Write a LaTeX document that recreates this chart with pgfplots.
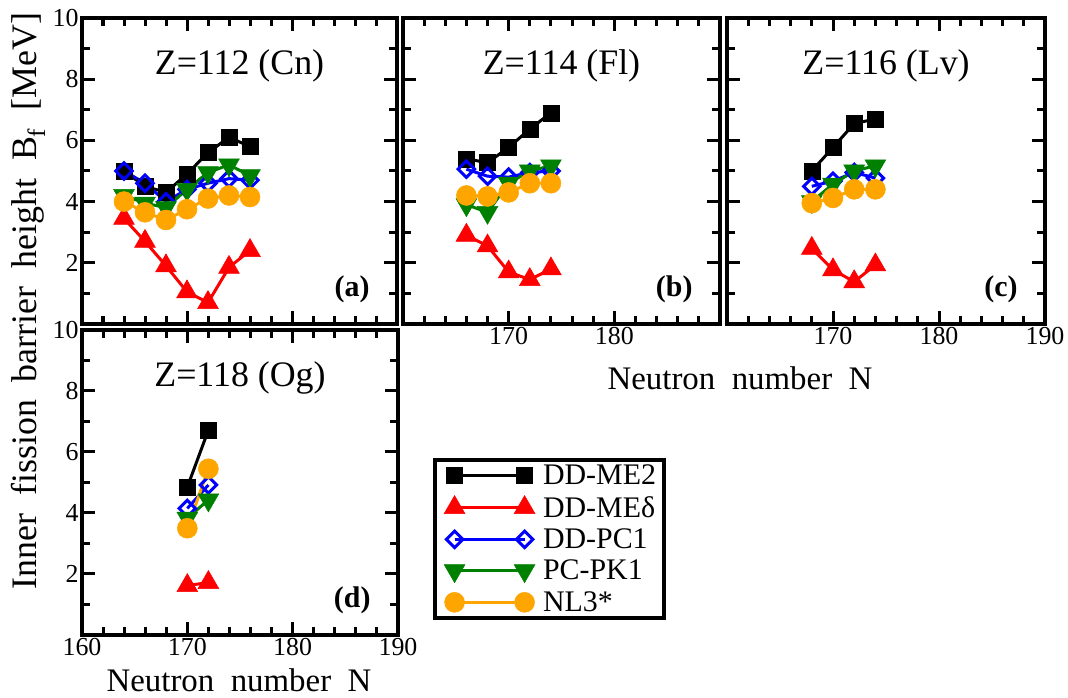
\documentclass[border=0pt]{standalone}
\usepackage{fontspec}
\setmainfont{Liberation Serif}
\usepackage{pgfplots}
\usepackage{pgfplotstable}
\pgfplotsset{compat=1.18}
\definecolor{cOrange}{RGB}{255,165,0}
\definecolor{cGreen}{RGB}{0,128,0}
\newcommand{\fs}[1]{\fontsize{#1}{#1}\selectfont}

\pgfplotstableread{
N   me2  medelta pc1  pk1  nl3
164 5.00 3.45    5.00 4.20 4.00
166 4.50 2.70    4.60 3.95 3.65
168 4.30 1.90    4.00 3.80 3.40
170 4.90 1.05    4.40 4.40 3.75
172 5.60 0.70    4.60 4.95 4.10
174 6.10 1.85    4.75 5.20 4.20
176 5.80 2.40    4.70 4.85 4.15
}\tabA
\pgfplotstableread{
N   me2  medelta pc1  pk1  nl3
166 5.40 2.90    5.06 3.90 4.20
168 5.27 2.55    4.83 3.65 4.17
170 5.77 1.70    4.80 4.60 4.30
172 6.37 1.45    4.95 5.00 4.60
174 6.90 1.80    5.00 5.17 4.60
}\tabB
\pgfplotstableread{
N   me2  medelta pc1  pk1  nl3
168 5.00 2.47    4.50 4.00 3.95
170 5.77 1.77    4.67 4.57 4.12
172 6.55 1.38    4.95 5.00 4.40
174 6.70 1.93    4.77 5.17 4.40
}\tabC
\pgfplotstableread{
N   me2  medelta pc1  pk1  nl3
170 4.85 1.62    4.15 3.83 3.50
172 6.72 1.72    4.92 4.43 5.45
}\tabD

\pgfplotsset{
  panel/.style={
    scale only axis, height=306bp,
    xmin=160, xmax=190, ymin=0, ymax=10,
    xtick={160,170,180,190}, ytick={2,4,6,8,10},
    minor xtick={162,164,166,168,172,174,176,178,182,184,186,188},
    minor ytick={1,3,5,7,9},
    tick align=inside,
    axis line style={line width=4.5bp},
    major tick length=13bp, minor tick length=8bp,
    every tick/.append style={line width=3bp, black},
    tick label style={font=\fs{26}},
    /pgf/number format/assume math mode=true,
    /pgf/number format/1000 sep={},
    clip=false,
    anchor=south west,
  },
  me2/.style={black, line width=3bp, mark=square*, mark size=8bp, mark options={solid, fill=black, line width=0.5bp}},
  medelta/.style={red, line width=3bp, mark=triangle*, mark size=12bp, mark options={solid, fill=red, line width=0.5bp}},
  pc1/.style={blue, line width=3bp, mark=square, mark size=5.8bp, mark options={solid, rotate=45, fill=white, line width=3bp}},
  pk1/.style={cGreen, line width=3bp, mark=triangle*, mark size=12bp, mark options={solid, rotate=180, fill=cGreen, line width=0.5bp}},
  nl3/.style={cOrange, line width=3bp, mark=*, mark size=10bp, mark options={solid, fill=cOrange, line width=0.5bp}},
}
\newcommand{\allplots}[1]{%
  \addplot[me2] table[x=N,y=me2] {#1};
  \addplot[medelta] table[x=N,y=medelta] {#1};
  \addplot[pc1] table[x=N,y=pc1] {#1};
  \addplot[pk1] table[x=N,y=pk1] {#1};
  \addplot[nl3] table[x=N,y=nl3] {#1};
}

\begin{document}
\begin{tikzpicture}
% (a)
\begin{axis}[panel, at={(82bp,374bp)}, width=315bp, xticklabels={}]
\allplots{\tabA}
\node[anchor=base, font=\fs{36}, yshift=-57bp] at (rel axis cs:0.5,1) {Z=112 (Cn)};
\node[anchor=base east, font=\bfseries\fs{30}, xshift=-24bp, yshift=27bp] at (rel axis cs:1,0) {(a)};
\end{axis}
% (b)
\begin{axis}[panel, at={(403bp,374bp)}, width=317bp, yticklabels={}, xticklabels={,170,180,}]
\allplots{\tabB}
\node[anchor=base, font=\fs{36}, yshift=-57bp] at (rel axis cs:0.5,1) {Z=114 (Fl)};
\node[anchor=base east, font=\bfseries\fs{30}, xshift=-24bp, yshift=27bp] at (rel axis cs:1,0) {(b)};
\end{axis}
% (c)
\begin{axis}[panel, at={(727bp,374bp)}, width=318bp, yticklabels={}, xticklabels={,170,180,190}]
\allplots{\tabC}
\node[anchor=base, font=\fs{36}, yshift=-57bp] at (rel axis cs:0.5,1) {Z=116 (Lv)};
\node[anchor=base east, font=\bfseries\fs{30}, xshift=-24bp, yshift=27bp] at (rel axis cs:1,0) {(c)};
\end{axis}
% (d)
\begin{axis}[panel, at={(82bp,63bp)}, width=316bp, height=305bp,
  legend image code/.code={\draw[mark repeat=2,mark phase=1,#1] plot coordinates {(0bp,0bp)(35bp,0bp)(70bp,0bp)}; \path (-11bp,0bp) (86bp,0bp);},
  legend style={at={(1.111,0.58)}, anchor=north west, draw=black, line width=4bp,
    font=\fs{30}, row sep=8bp, inner xsep=7bp, inner ysep=4bp, nodes={inner sep=1bp}},
  legend cell align=left]
\allplots{\tabD}
\legend{DD-ME2, DD-MEδ, DD-PC1, PC-PK1, NL3*}
\node[anchor=base, font=\fs{36}, yshift=-57bp] at (rel axis cs:0.5,1) {Z=118 (Og)};
\node[anchor=base east, font=\bfseries\fs{30}, xshift=-24bp, yshift=27bp] at (rel axis cs:1,0) {(d)};
\end{axis}
% labels
\node[rotate=90, font=\fs{36}] at (28bp,397bp) {Inner~~fission~~barrier~~height~~B\textsubscript{f}~~[MeV]};
\node[font=\fs{33}] at (740bp,320bp) {Neutron~~number~~N};
\node[anchor=base, font=\fs{33}, inner sep=0pt] at (239bp,7bp) {Neutron~~number~~N};
\pgfresetboundingbox
\useasboundingbox (0,0) rectangle (1068bp,698bp);
\end{tikzpicture}
\end{document}
